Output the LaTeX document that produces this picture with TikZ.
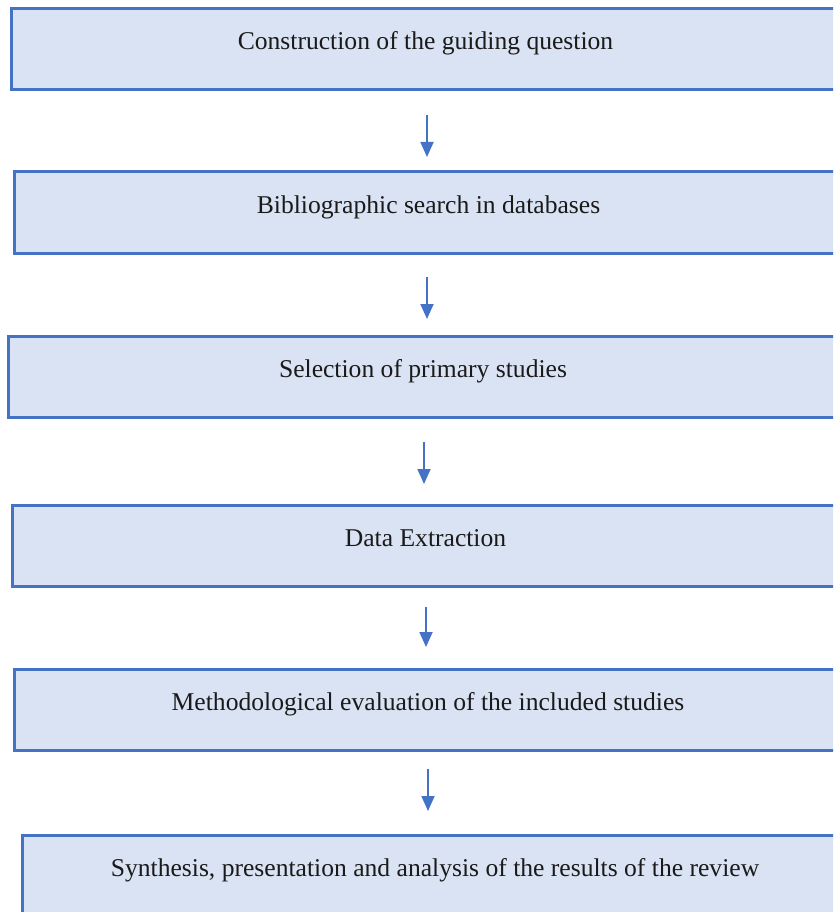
\documentclass[tikz,border=0pt]{standalone}
\usepackage{fontspec}
\setmainfont{Liberation Serif}
\usetikzlibrary{arrows.meta}
\definecolor{boxfill}{HTML}{DAE3F3}
\definecolor{boxline}{HTML}{4472C4}
\definecolor{txt}{HTML}{1A1A1A}
\begin{document}
\begin{tikzpicture}[x=1pt,y=-1pt,
  stepbox/.style={draw=boxline, fill=boxfill, line width=3pt, anchor=north west,
    minimum height=81pt, inner sep=0pt, outer sep=0pt},
  lbl/.style={anchor=base, inner sep=0pt, text=txt, font=\fontsize{25.6}{30}\selectfont},
  arr/.style={draw=boxline, line width=1.8pt, -{Triangle[width=13pt,length=15pt]}}]
\useasboundingbox (0,0) rectangle (833,912);
\clip (0,0) rectangle (833,912);
\fill[white] (0,0) rectangle (833,912);
% boxes
\node[stepbox, minimum width=839pt] (b1) at (11,9) {};
\node[stepbox, minimum width=836pt] (b2) at (14,172) {};
\node[stepbox, minimum width=842pt] (b3) at (8,336) {};
\node[stepbox, minimum width=838pt] (b4) at (12,505) {};
\node[stepbox, minimum width=836pt] (b5) at (14,669) {};
\node[stepbox, minimum width=828pt, minimum height=100pt] (b6) at (22,835) {};
% labels
\node[lbl] (t1) at (425.5,50) {Construction of the guiding question};
\node[lbl] (t2) at (428.5,213) {Bibliographic search in databases};
\node[lbl] (t3) at (423,377) {Selection of primary studies};
\node[lbl] (t4) at (425.5,546) {Data Extraction};
\node[lbl] (t5) at (428,710) {Methodological evaluation of the included studies};
\node[lbl] (t6) at (435,876) {Synthesis, presentation and analysis of the results of the review};
% arrow columns
\coordinate (a1) at (427,0);
\coordinate (a2) at (427,0);
\coordinate (a3) at (424,0);
\coordinate (a4) at (426,0);
\coordinate (a5) at (428,0);
% arrows
\draw[arr, shorten <=25pt, shorten >=15pt] (b1.south -| a1) -- (b2.north -| a1);
\draw[arr, shorten <=24pt, shorten >=17pt] (b2.south -| a2) -- (b3.north -| a2);
\draw[arr, shorten <=25pt, shorten >=21pt] (b3.south -| a3) -- (b4.north -| a3);
\draw[arr, shorten <=21pt, shorten >=22pt] (b4.south -| a4) -- (b5.north -| a4);
\draw[arr, shorten <=19pt, shorten >=24pt] (b5.south -| a5) -- (b6.north -| a5);
\end{tikzpicture}
\end{document}
